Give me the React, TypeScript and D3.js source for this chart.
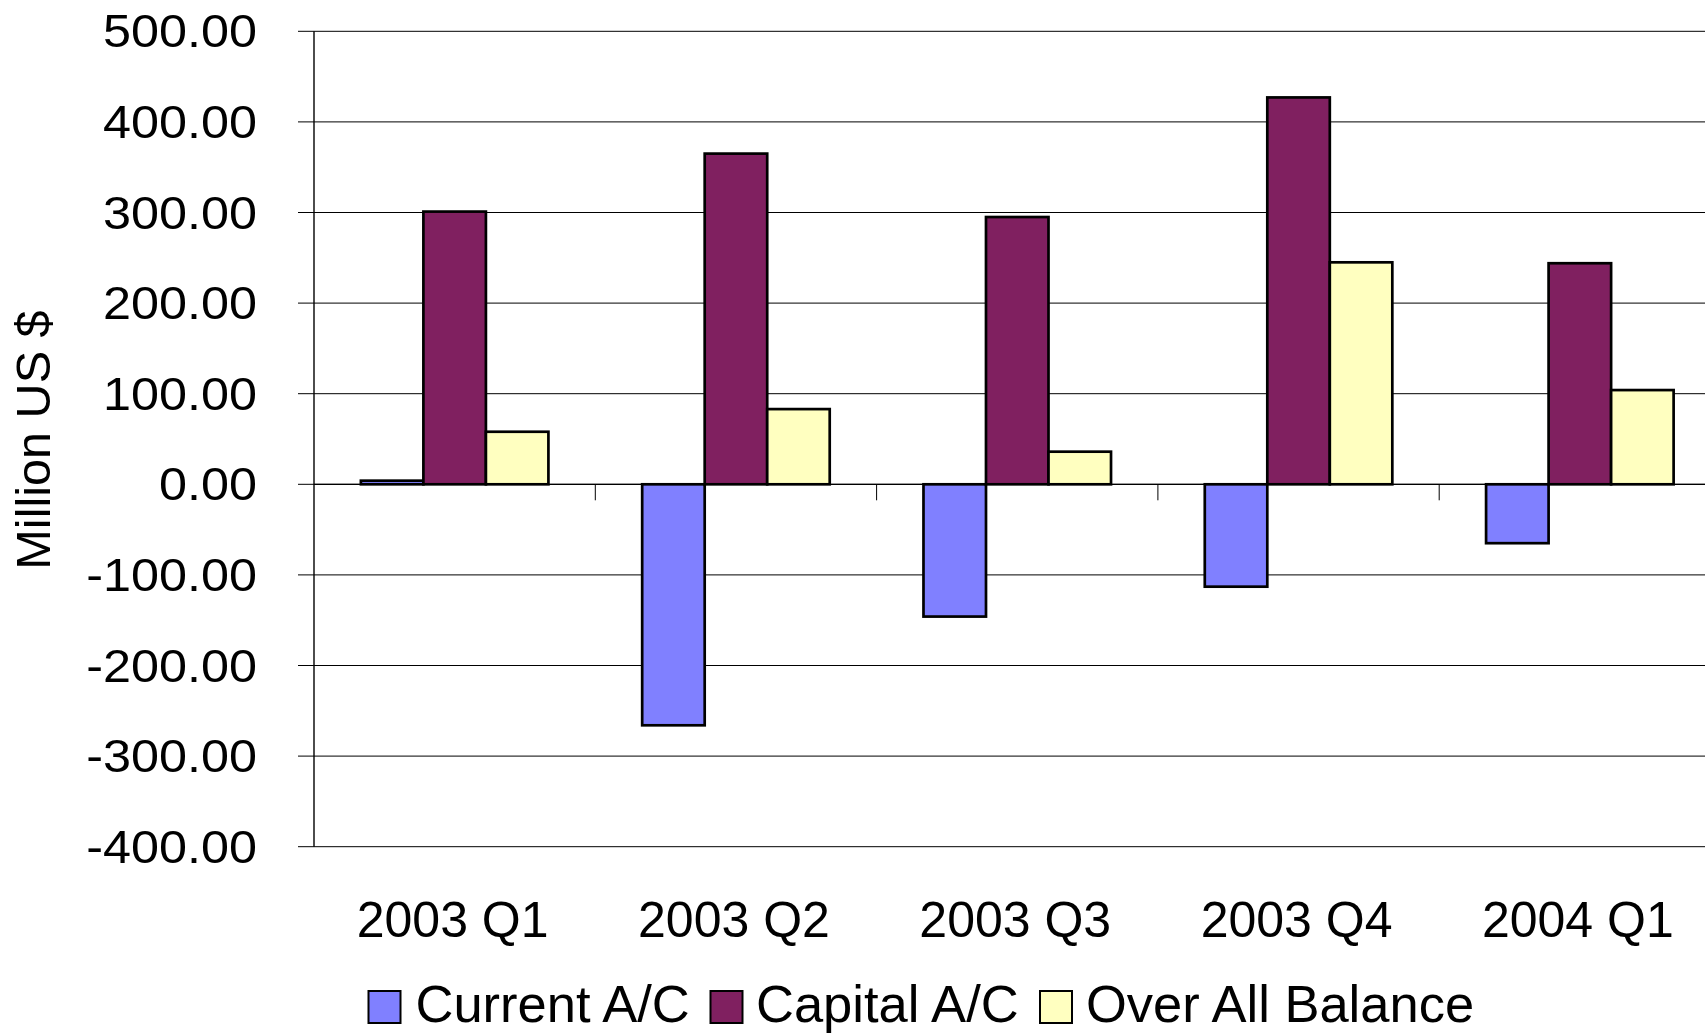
import React from "react";
import * as d3 from "d3";

const categories = ["2003 Q1", "2003 Q2", "2003 Q3", "2003 Q4", "2004 Q1"];
const seriesNames = ["Current A/C", "Capital A/C", "Over All Balance"];
const currentAC = [4, -266, -146, -113, -65];
const capitalAC = [301, 365, 295, 427, 244];
const overallBalance = [58, 83, 36, 245, 104];
const yTicks = [500, 400, 300, 200, 100, 0, -100, -200, -300, -400];
const colors = ["#8080FF", "#802060", "#FFFFC0"];

const W = 1705;
const H = 1034;
const FONT = "'Liberation Sans', Arial, Helvetica, sans-serif";

export default function App() {
  const values = [currentAC, capitalAC, overallBalance];
  const x = d3.scaleBand<string>().domain(categories).range([314, 1720.5]).paddingInner(0).paddingOuter(0);
  const xs = d3
    .scaleBand<string>()
    .domain(seriesNames)
    .range([0, x.bandwidth()])
    .paddingInner(0)
    .paddingOuter(0.75);
  const y = d3.scaleLinear().domain([-400, 500]).range([846.7, 31.3]);
  const x0 = 314;
  const xEnd = 1720.5;

  const boundaries = categories.map((c) => (x(c) as number) + x.bandwidth());

  const legendItems = [
    { sq: 368.5, tx: 415.5 },
    { sq: 710.5, tx: 756 },
    { sq: 1040, tx: 1086 },
  ];

  return (
    <div style={{ position: "absolute", left: 0, top: 0, width: W, height: H, background: "#fff" }}>
      <svg width={W} height={H} style={{ display: "block" }} fontFamily={FONT}>
        <rect x={0} y={0} width={W} height={H} fill="#fff" />
        {/* gridlines */}
        {yTicks.map((t) => (
          <line key={"g" + t} x1={x0} x2={xEnd} y1={y(t)} y2={y(t)} stroke="#000" strokeWidth={1} />
        ))}
        {/* y tick marks */}
        {yTicks.map((t) => (
          <line key={"yt" + t} x1={298} x2={x0} y1={y(t)} y2={y(t)} stroke="#000" strokeWidth={1} />
        ))}
        {/* bars */}
        {values.map((vals, si) =>
          vals.map((v, ci) => {
            const bx = (x(categories[ci]) as number) + (xs(seriesNames[si]) as number);
            const top = Math.min(y(v), y(0));
            const h = Math.abs(y(v) - y(0));
            return (
              <rect
                key={"b" + si + "-" + ci}
                x={bx}
                y={top}
                width={xs.bandwidth()}
                height={h}
                fill={colors[si]}
                stroke="#000"
                strokeWidth={2.7}
              />
            );
          })
        )}
        {/* zero axis line */}
        <line x1={x0} x2={xEnd} y1={y(0)} y2={y(0)} stroke="#000" strokeWidth={1.2} />
        {/* x tick marks */}
        {boundaries.map((b, i) => (
          <line key={"xt" + i} x1={b} x2={b} y1={y(0)} y2={y(0) + 16} stroke="#000" strokeWidth={1} />
        ))}
        {/* y axis line */}
        <line x1={x0} x2={x0} y1={y(500)} y2={y(-400)} stroke="#000" strokeWidth={1.4} />
        {/* y labels */}
        {yTicks.map((t) => (
          <text
            key={"yl" + t}
            transform={`translate(257, ${y(t) + 16}) scale(1.095, 1)`}
            textAnchor="end"
            fontSize={46}
            fill="#000"
          >
            {t.toFixed(2)}
          </text>
        ))}
        {/* x labels */}
        {categories.map((c) => (
          <text
            key={"xl" + c}
            x={(x(c) as number) + x.bandwidth() / 2 - 2}
            y={937}
            textAnchor="middle"
            fontSize={50}
            fill="#000"
          >
            {c}
          </text>
        ))}
        {/* y axis title */}
        <text transform="translate(50, 440) rotate(-90)" textAnchor="middle" fontSize={48.6} fill="#000">
          Million US $
        </text>
        {/* legend */}
        {seriesNames.map((s, i) => (
          <g key={"lg" + s}>
            <rect x={legendItems[i].sq} y={991} width={32} height={32} fill={colors[i]} stroke="#000" strokeWidth={2} />
            <text x={legendItems[i].tx} y={1022} fontSize={52.5} fill="#000">
              {s}
            </text>
          </g>
        ))}
      </svg>
    </div>
  );
}
